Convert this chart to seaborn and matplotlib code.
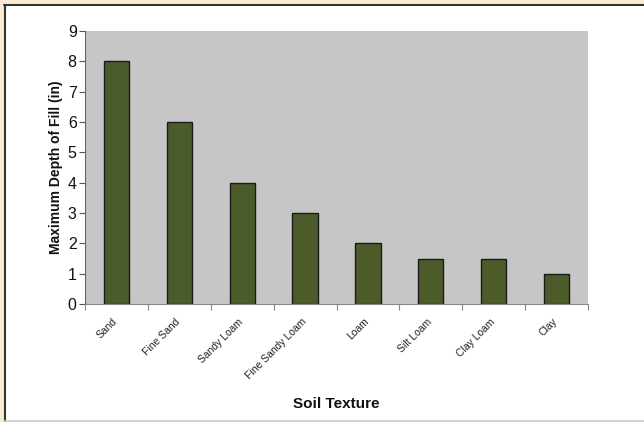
import matplotlib
matplotlib.use("Agg")
import matplotlib.pyplot as plt
from matplotlib.patches import Rectangle
from matplotlib.lines import Line2D
from matplotlib.transforms import ScaledTranslation
import seaborn as sns
import pandas as pd

textures = ["Sand", "Fine Sand", "Sandy Loam", "Fine Sandy Loam", "Loam",
            "Silt Loam", "Clay Loam", "Clay"]
max_depth = [8, 6, 4, 3, 2, 1.5, 1.5, 1]
y_ticks = list(range(0, 10))

df = pd.DataFrame({"texture": textures, "depth": max_depth})

sns.set_theme(style="white")
plt.rcParams["font.family"] = ["Liberation Sans", "DejaVu Sans"]

W, H = 644, 422
fig = plt.figure(figsize=(W / 100, H / 100), dpi=100)
fig.patch.set_facecolor("white")

# page frame: beige margin, dark rule, faint bottom rule
beige = "#fbebd2"
fig.patches.append(Rectangle((0, 1 - 4 / H), 1, 4 / H, transform=fig.transFigure,
                             facecolor=beige, edgecolor="none", zorder=0))
fig.patches.append(Rectangle((0, 0), 3.5 / W, 1, transform=fig.transFigure,
                             facecolor=beige, edgecolor="none", zorder=0))
fig.lines.append(Line2D([4 / W, 1], [1 - 4.5 / H, 1 - 4.5 / H], transform=fig.transFigure,
                        color="#333333", lw=1.5))
fig.lines.append(Line2D([4.5 / W, 4.5 / W], [0, 1 - 4.5 / H], transform=fig.transFigure,
                        color="#333333", lw=1.5))
fig.lines.append(Line2D([4 / W, 1], [1.5 / H, 1.5 / H], transform=fig.transFigure,
                        color="#c8c8c8", lw=1.2))

left, right, top, bottom = 85, 588, 31, 304
ax = fig.add_axes([left / W, 1 - bottom / H, (right - left) / W, (bottom - top) / H])
ax.set_facecolor("#c6c6c6")

sns.barplot(data=df, x="texture", y="depth", ax=ax, color="#4c5b2a",
            saturation=1, width=0.4, edgecolor="#1a1a1a", linewidth=1.0)

ax.set_xlim(-0.5, len(textures) - 0.5)
ax.set_ylim(0, 9)
ax.set_yticks(y_ticks)
ax.tick_params(axis="y", labelsize=11.5, length=4, width=0.8, color="#555555",
               pad=2, left=True, labelcolor="#111111")

# category boundary ticks on x, labels centred under bars
ax.set_xticks([i + 0.5 for i in range(len(textures) - 1)] + [-0.5, len(textures) - 0.5],
              minor=True)
ax.set_xticks(range(len(textures)))
ax.tick_params(axis="x", which="major", length=0, pad=4)
ax.tick_params(axis="x", which="minor", length=4, width=0.8, color="#888888", bottom=True)
ax.set_xticklabels(textures, rotation=45, ha="right", rotation_mode="anchor",
                   fontsize=7.5, color="#222222")
shift = ScaledTranslation(-4 / 100, -7 / 100, fig.dpi_scale_trans)
for lbl in ax.get_xticklabels():
    lbl.set_transform(lbl.get_transform() + shift)

for side in ["top", "right"]:
    ax.spines[side].set_visible(False)
ax.spines["left"].set_color("#666666")
ax.spines["left"].set_linewidth(0.8)
ax.spines["bottom"].set_color("#888888")
ax.spines["bottom"].set_linewidth(0.8)

ax.set_ylabel("Maximum Depth of Fill (in)", fontsize=10, fontweight="bold", color="#111111",
              family=["Liberation Sans Narrow", "Liberation Sans"])
ax.yaxis.set_label_coords((63 - left) / (right - left), 0.5)
ax.set_xlabel("Soil Texture", fontsize=11, fontweight="bold", color="#111111")
ax.xaxis.set_label_coords(0.5, -(397 - bottom) / (bottom - top))

fig.savefig("out.png", dpi=100)
